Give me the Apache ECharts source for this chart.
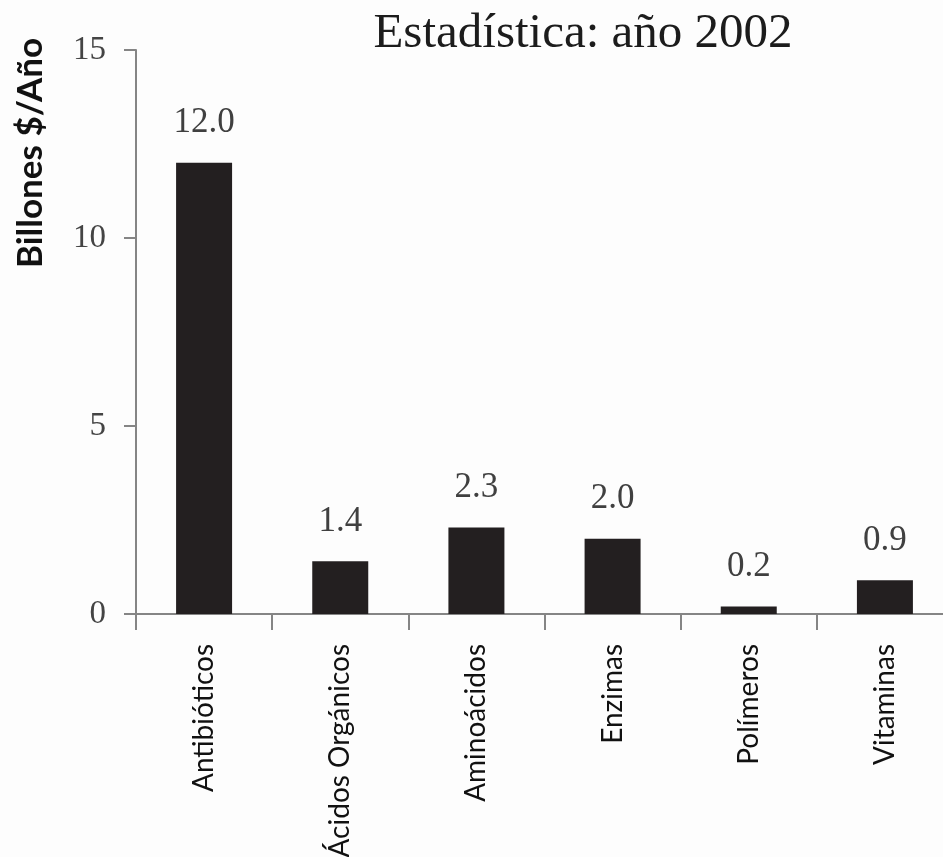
<!DOCTYPE html>
<html>
<head>
<meta charset="utf-8">
<script src="https://cdn.jsdelivr.net/npm/echarts@6/dist/echarts.min.js"></script>
<style>
  html, body { margin: 0; padding: 0; background: #fdfdfd; }
  #chart { width: 943px; height: 857px; }
</style>
</head>
<body>
<div id="chart"></div>
<script>
// Producción por tipo de producto, en billones de dólares por año
const categories = ['Antibióticos', 'Ácidos Orgánicos', 'Aminoácidos', 'Enzimas', 'Polímeros', 'Vitaminas'];
const values = [12.0, 1.4, 2.3, 2.0, 0.2, 0.9];
const yTicks = [0, 5, 10, 15];

const titleText = 'Estadística: año 2002';
const yName = 'Billones $/Año';

const axisColor = '#858585';
const serif = '"Liberation Serif", "DejaVu Serif", serif';
const sans = 'Lato, "Noto Sans", sans-serif';

const chart = echarts.init(document.getElementById('chart'), null, { renderer: 'canvas' });

chart.setOption({
  backgroundColor: '#fdfdfd',
  animation: false,
  title: {
    text: titleText,
    left: 578,
    textAlign: 'center',
    top: 5,
    textStyle: { fontFamily: serif, fontSize: 49, fontWeight: 'normal', color: '#1c1c1c' }
  },
  graphic: [{
    type: 'text',
    x: 31,
    y: 153,
    rotation: Math.PI / 2,
    style: {
      text: yName,
      fontFamily: sans,
      fontWeight: 'bold',
      fontSize: 35,
      fill: '#111',
      align: 'center',
      verticalAlign: 'middle'
    }
  }],
  grid: { left: 136, right: -10, top: 50, bottom: 243, containLabel: false, outerBoundsMode: 'none' },
  xAxis: {
    type: 'category',
    data: categories,
    boundaryGap: true,
    axisLine: { show: true, lineStyle: { color: axisColor, width: 2 } },
    axisTick: { show: true, length: 16, inside: false, alignWithLabel: false, lineStyle: { color: axisColor, width: 2 } },
    axisLabel: {
      rotate: 90,
      margin: 30,
      interval: 0,
      fontFamily: sans,
      fontSize: 28,
      color: '#111'
    },
    splitLine: { show: false }
  },
  yAxis: {
    type: 'value',
    min: yTicks[0],
    max: yTicks[yTicks.length - 1],
    interval: yTicks[1] - yTicks[0],
    axisLine: { show: true, lineStyle: { color: axisColor, width: 2 } },
    axisTick: { show: true, length: 12, inside: false, lineStyle: { color: axisColor, width: 2 } },
    axisLabel: {
      margin: 30,
      fontFamily: serif,
      fontSize: 33,
      color: '#444'
    },
    splitLine: { show: false }
  },
  series: [{
    type: 'bar',
    data: values,
    barWidth: 56,
    itemStyle: { color: '#231f20' },
    label: {
      show: true,
      position: 'top',
      distance: 22,
      fontFamily: serif,
      fontSize: 35,
      color: '#404040',
      formatter: p => p.value.toFixed(1)
    }
  }]
});
</script>
</body>
</html>
